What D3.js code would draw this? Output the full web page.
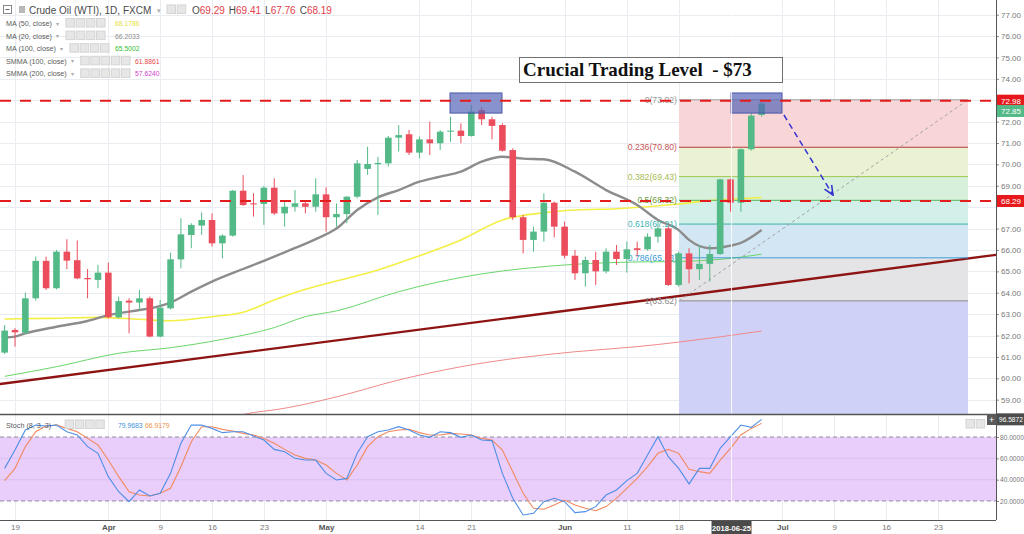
<!DOCTYPE html>
<html>
<head>
<meta charset="utf-8">
<script src="https://cdn.jsdelivr.net/npm/d3@7"></script>
<style>
  html, body { margin: 0; padding: 0; background: #fff; }
  svg { display: block; font-family: "Liberation Sans", Arial, sans-serif; }
</style>
</head>
<body>
<div id="chart"></div>
<script>
// daily candles, index 0 = 2018-03-16 : [open, high, low, close]
const candles = [
  [61.20, 62.49, 61.14, 62.23], [62.26, 62.34, 61.48, 62.15], [62.13, 64.00, 62.07, 63.74],
  [63.74, 65.69, 63.63, 65.49], [65.49, 65.69, 64.13, 64.21], [64.21, 66.00, 64.16, 65.92],
  [65.92, 66.50, 65.10, 65.50], [65.52, 66.44, 64.63, 64.67], [64.69, 65.11, 63.74, 64.63],
  [64.60, 65.30, 64.21, 64.94], [64.94, 65.41, 62.80, 62.85], [62.85, 63.82, 62.80, 63.61],
  [63.63, 63.74, 62.10, 63.54], [63.54, 64.13, 63.19, 63.74], [63.74, 63.82, 61.92, 61.95],
  [61.95, 63.66, 61.92, 63.30], [63.27, 65.87, 63.22, 65.56], [65.56, 67.48, 65.14, 66.73],
  [66.70, 67.25, 66.08, 67.17], [67.14, 67.75, 66.70, 67.40], [67.40, 67.71, 66.16, 66.31],
  [66.31, 66.73, 65.61, 66.67], [66.67, 68.80, 66.62, 68.77], [68.77, 69.50, 68.06, 68.10],
  [68.18, 68.65, 67.56, 68.13], [68.15, 68.99, 67.17, 68.91], [68.91, 69.35, 67.64, 67.71],
  [67.71, 68.26, 67.09, 68.02], [68.02, 68.80, 67.79, 68.18], [68.18, 68.31, 67.71, 68.02],
  [68.02, 69.35, 67.79, 68.60], [68.60, 68.93, 66.86, 67.53], [67.53, 68.18, 67.09, 67.68],
  [67.68, 68.52, 67.25, 68.49], [68.49, 70.21, 68.41, 70.05], [69.79, 70.83, 69.51, 70.02],
  [70.01, 70.36, 67.64, 70.07], [70.05, 71.33, 69.90, 71.25], [71.25, 71.84, 70.60, 71.37],
  [71.41, 71.61, 70.44, 70.55], [70.55, 71.30, 70.29, 71.17], [71.17, 72.00, 70.44, 70.99],
  [70.99, 71.61, 70.67, 71.53], [71.53, 72.23, 71.06, 71.58], [71.58, 71.92, 70.99, 71.33],
  [71.33, 72.78, 71.30, 72.47], [72.54, 72.67, 71.84, 72.11], [72.11, 72.23, 71.17, 71.80],
  [71.84, 71.92, 70.60, 70.64], [70.67, 70.75, 67.40, 67.53], [67.53, 67.64, 65.84, 66.47],
  [66.47, 67.09, 65.92, 66.86], [66.86, 68.65, 66.39, 68.21], [68.21, 68.26, 66.59, 67.09],
  [67.09, 67.32, 65.61, 65.73], [65.73, 66.00, 64.60, 64.91], [64.91, 65.69, 64.29, 65.53],
  [65.53, 65.92, 64.36, 65.00], [65.00, 66.08, 64.91, 65.92], [65.92, 66.23, 65.30, 65.58],
  [65.58, 66.39, 64.94, 66.03], [66.08, 66.39, 65.69, 66.00], [66.03, 66.78, 65.97, 66.62],
  [66.62, 67.32, 66.34, 67.01], [67.01, 67.09, 64.32, 64.36], [64.36, 65.92, 64.28, 65.84],
  [65.84, 66.08, 64.44, 65.10], [65.10, 66.23, 64.60, 65.35], [65.35, 66.23, 64.52, 65.81],
  [65.81, 69.33, 65.77, 69.30], [69.30, 69.33, 67.79, 68.21], [68.21, 70.75, 67.79, 70.71],
  [70.71, 72.39, 70.64, 72.28], [72.31, 72.93, 72.23, 72.85]
];

// moving averages, read as [bar index, value]
const ma20 = [[0,61.91],[1,61.95],[2,62.10],[5,62.41],[8,62.68],[10,62.95],[13,63.19],[14,63.27],
  [16,63.54],[18,64.05],[20,64.52],[23,65.11],[25,65.49],[27,65.89],[30,66.51],[32,67.00],[34,67.87],
  [36,68.46],[38,68.80],[40,69.19],[42,69.43],[44,69.66],[46,70.13],[48,70.36],[50,70.27],[52,70.24],
  [55,69.66],[58,68.80],[61,68.10],[63,67.40],[65,66.93],[66,66.47],[68,66.08],[70,66.20],[71,66.33],[73,66.93]];
const ma50 = [[0,62.77],[4,62.80],[9,62.85],[13,62.76],[16,62.69],[20,62.88],[23,63.09],[26,63.66],
  [29,64.16],[32,64.55],[36,65.06],[40,65.73],[44,66.47],[48,67.40],[52,67.74],[55,67.87],[59,67.93],
  [65,68.15],[67,68.26],[73,68.45]];
const ma100 = [[0,60.09],[5,60.54],[11,61.17],[16,61.43],[21,61.82],[26,62.37],[29,62.88],[32,63.15],
  [38,64.05],[42,64.52],[46,64.88],[50,65.13],[55,65.33],[61,65.44],[65,65.46],[69,65.56],[73,65.80]];
const smma100 = [[22,58.20],[24,58.40],[26,58.52],[32,59.13],[38,59.92],[44,60.54],[50,60.98],
  [55,61.24],[61,61.48],[65,61.69],[73,62.21]];

// stochastic %K and %D per bar
const stochK = [50.6,67.8,86.6,91.2,90.3,91.2,85,81.9,71,64.7,42.8,28.7,19.4,30.3,24.7,27.2,45.9,74.1,
  91.2,91.2,88.1,84.1,85,85,80.9,77.2,68.4,66.2,60,58.4,58.4,45.9,39.7,41.2,64.7,80.3,85,86.6,89.7,86.6,
  81.9,79.7,85,84.1,79.7,81.9,77.2,76.6,45.9,22.5,6.9,8.4,19.4,22.5,19.4,9.1,10,14.7,25.6,30.3,39.1,
  45.9,63.1,80.3,61.6,50.6,36,50.6,50.6,69.4,80.3,91.2,89.1,96.6];
const stochD = [39.1,50.6,71,85,90.3,91.2,88.1,85,78.7,72.5,58.4,42.8,28.7,25.6,24.7,27.2,31.9,52.2,
  75.6,89.7,89.7,87.2,85.6,83.4,81.9,78.7,74.1,68.4,63.1,60,58.4,53.7,45.9,39.7,53.7,71,80.3,85,86.6,
  87.2,84.1,81.9,81.9,83.4,82.8,81.9,78.7,77.2,67.8,47.5,27.2,13.1,12.2,16.2,20.9,16.2,13.1,10.9,14.7,
  22.5,31.9,41.2,52.2,64.7,68.4,64.7,49.7,47.5,45.9,58.4,69.4,81.9,88.1,92.8];

// time axis
const dateTicks = [1, 10, 15, 20, 25, 31, 40, 45, 54, 60, 65, 75, 80, 85, 90];
const dateLabels = ['19', 'Apr', '9', '16', '23', 'May', '14', '21', 'Jun', '11', '18', 'Jul', '9', '16', '23'];
const priceTicks = d3.range(59, 78);
const stochTicks = [20, 40, 60, 80];

// drawings
const levels = [72.98, 68.29];
const fibLevels = [0, 0.236, 0.382, 0.5, 0.618, 0.786, 1];
const fibHigh = 73.02, fibLow = 63.62;
const fibSpan = [65.03, 92.9];
const trendLine = [[-0.45, 59.73], [95.6, 65.77]];
const boxes = [[42.95, 47.96, 73.34, 72.40], [70.05, 74.96, 73.34, 72.40]];
const arrow = [[75.15, 72.31], [79.88, 68.57]];
const cursorBar = 70;

const legendRows = [
  { name: 'MA (50, close)', value: '68.1786', n: 4 },
  { name: 'MA (20, close)', value: '66.2033', n: 4 },
  { name: 'MA (100, close)', value: '65.5002', n: 4 },
  { name: 'SMMA (100, close)', value: '61.8861', n: 5 },
  { name: 'SMMA (200, close)', value: '57.6240', n: 5 }
];
const ohlc = [['O', '69.29'], ['H', '69.41'], ['L', '67.76'], ['C', '68.19']];

// ---- styles
const W = 1024, H = 534;
const PLOT_R = 996, MAIN_B = 414, STOCH_B = 520;
const UP = '#53b987', DOWN = '#eb4d5c';
const GRID = '#e9ecf1';
const fibFill = ['#f8d6d8', '#ebf2d3', '#d6f0dc', '#d3efe9', '#d3e6f3', '#e4e4e6'];
const fibBelow = '#cfd2f6';
const fibLine = ['#9a9a9a', '#b23a3a', '#9fc64d', '#5cb85c', '#3bb3a8', '#3d9ad6', '#8a8a8a'];
const fibText = ['#9a9a9a', '#c45656', '#a6bb52', '#6a9a3a', '#3fb5b5', '#3a9bd6', '#8a8a8a'];
const legendColors = ['#e6e23a', '#8a8a8a', '#33c033', '#e04848', '#d23ed2'];

const x = d3.scaleLinear().domain([0, 90]).range([4.63, 937.93]);
const y = d3.scaleLinear().domain([58.33, 77.687]).range([MAIN_B, 0]);
const ys = d3.scaleLinear().domain([0, 100]).range([522.3, 415.7]);

const svg = d3.select('#chart').append('svg')
  .attr('width', W)
  .attr('height', H);

const defs = svg.append('defs');
defs.append('clipPath').attr('id', 'clip-main')
  .append('rect').attr('x', 0).attr('y', 0).attr('width', PLOT_R).attr('height', MAIN_B);
defs.append('clipPath').attr('id', 'clip-stoch')
  .append('rect').attr('x', 0).attr('y', MAIN_B + 1).attr('width', PLOT_R).attr('height', STOCH_B - MAIN_B - 1);
defs.append('marker')
  .attr('id', 'arrowhead')
  .attr('viewBox', '0 0 10 10')
  .attr('refX', 9).attr('refY', 5)
  .attr('markerWidth', 7).attr('markerHeight', 7)
  .attr('orient', 'auto')
  .append('path')
  .attr('d', 'M0,1 L9,5 L0,9')
  .attr('fill', 'none')
  .attr('stroke', '#3434d0')
  .attr('stroke-width', 1.5);

svg.append('rect').attr('width', W).attr('height', H).attr('fill', '#fff');

// ---- grid
const grid = svg.append('g');
grid.selectAll('line.h').data(priceTicks).enter().append('line')
  .attr('x1', 0).attr('x2', PLOT_R)
  .attr('y1', d => Math.round(y(d)) + 0.5).attr('y2', d => Math.round(y(d)) + 0.5)
  .attr('stroke', GRID);
grid.selectAll('line.v').data(dateTicks).enter().append('line')
  .attr('x1', d => Math.round(x(d)) + 0.5).attr('x2', d => Math.round(x(d)) + 0.5)
  .attr('y1', 0).attr('y2', STOCH_B)
  .attr('stroke', GRID);

// ---- fibonacci retracement zones
const main = svg.append('g').attr('clip-path', 'url(#clip-main)');
const fibPrice = l => fibHigh - l * (fibHigh - fibLow);
const fx0 = x(fibSpan[0]), fx1 = x(fibSpan[1]);

main.selectAll('rect.fib').data(fibLevels.slice(0, -1)).enter().append('rect')
  .attr('x', fx0).attr('width', fx1 - fx0)
  .attr('y', d => y(fibPrice(d)))
  .attr('height', (d, i) => y(fibPrice(fibLevels[i + 1])) - y(fibPrice(d)))
  .attr('fill', (d, i) => fibFill[i]);
main.append('rect')
  .attr('x', fx0).attr('width', fx1 - fx0)
  .attr('y', y(fibLow)).attr('height', MAIN_B - y(fibLow))
  .attr('fill', fibBelow);

// ---- stochastic band
const stoch = svg.append('g').attr('clip-path', 'url(#clip-stoch)');
stoch.append('rect')
  .attr('x', 0).attr('width', PLOT_R)
  .attr('y', ys(80)).attr('height', ys(20) - ys(80))
  .attr('fill', '#e9cdfb');
stoch.selectAll('line.sg').data([40, 60]).enter().append('line')
  .attr('x1', 0).attr('x2', PLOT_R)
  .attr('y1', d => ys(d)).attr('y2', d => ys(d))
  .attr('stroke', '#dcc0f2');
stoch.selectAll('line.sb').data([20, 80]).enter().append('line')
  .attr('x1', 0).attr('x2', PLOT_R)
  .attr('y1', d => ys(d)).attr('y2', d => ys(d))
  .attr('stroke', '#8d8a9c')
  .attr('stroke-dasharray', '4,3');

// cursor line
svg.append('line')
  .attr('x1', x(cursorBar) + 1).attr('x2', x(cursorBar) + 1)
  .attr('y1', 0).attr('y2', STOCH_B)
  .attr('stroke', '#fff').attr('stroke-opacity', 0.85);

// ---- moving averages & trend line
const maLine = d3.line()
  .x(d => x(d[0]))
  .y(d => y(d[1]))
  .curve(d3.curveMonotoneX);

main.append('path').datum(smma100).attr('d', maLine)
  .attr('fill', 'none').attr('stroke', '#f08a8a').attr('stroke-width', 1);
main.append('path').datum(ma100).attr('d', maLine)
  .attr('fill', 'none').attr('stroke', '#6ad66a').attr('stroke-width', 1);
main.append('path').datum(ma50).attr('d', maLine)
  .attr('fill', 'none').attr('stroke', '#f3ef45').attr('stroke-width', 1.6);
main.append('path').datum(ma20).attr('d', maLine)
  .attr('fill', 'none').attr('stroke', '#8c8c8c').attr('stroke-width', 2.4);

main.append('path').datum(trendLine).attr('d', d3.line().x(d => x(d[0])).y(d => y(d[1])))
  .attr('fill', 'none').attr('stroke', '#8e1414').attr('stroke-width', 2.4);

// ---- fib lines + labels
main.selectAll('line.fib').data(fibLevels).enter().append('line')
  .attr('x1', fx0).attr('x2', fx1)
  .attr('y1', d => y(fibPrice(d))).attr('y2', d => y(fibPrice(d)))
  .attr('stroke', (d, i) => fibLine[i]);
main.append('line')
  .attr('x1', fx0).attr('y1', y(fibLow))
  .attr('x2', fx1).attr('y2', y(fibHigh))
  .attr('stroke', '#a0a0a0').attr('stroke-dasharray', '3,3');
main.selectAll('text.fib').data(fibLevels).enter().append('text')
  .attr('x', fx0 - 2)
  .attr('y', d => y(fibPrice(d)) + 3)
  .attr('text-anchor', 'end')
  .attr('font-size', 8.7)
  .attr('fill', (d, i) => fibText[i])
  .text(d => `${d}(${fibPrice(d).toFixed(2)})`);

// ---- candles
const cg = main.append('g');
cg.selectAll('line').data(candles).enter().append('line')
  .attr('x1', (d, i) => x(i)).attr('x2', (d, i) => x(i))
  .attr('y1', d => y(d[1])).attr('y2', d => y(d[2]))
  .attr('stroke', d => d[3] >= d[0] ? UP : DOWN);
cg.selectAll('rect').data(candles).enter().append('rect')
  .attr('x', (d, i) => x(i) - 3.3)
  .attr('width', 6.6)
  .attr('y', d => y(Math.max(d[0], d[3])))
  .attr('height', d => Math.max(1, Math.abs(y(d[0]) - y(d[3]))))
  .attr('fill', d => d[3] >= d[0] ? UP : DOWN);

// ---- drawings
main.selectAll('rect.box').data(boxes).enter().append('rect')
  .attr('x', d => x(d[0])).attr('width', d => x(d[1]) - x(d[0]))
  .attr('y', d => y(d[2])).attr('height', d => y(d[3]) - y(d[2]))
  .attr('fill', '#5565b8').attr('fill-opacity', 0.7)
  .attr('stroke', '#4a56a8');

main.selectAll('line.lvl').data(levels).enter().append('line')
  .attr('x1', 0).attr('x2', 992)
  .attr('y1', d => y(d)).attr('y2', d => y(d))
  .attr('stroke', '#e31c1c').attr('stroke-width', 2)
  .attr('stroke-dasharray', '11,9');

main.append('line')
  .attr('x1', x(arrow[0][0])).attr('y1', y(arrow[0][1]))
  .attr('x2', x(arrow[1][0])).attr('y2', y(arrow[1][1]))
  .attr('stroke', '#3434d0').attr('stroke-width', 1.5)
  .attr('stroke-dasharray', '6,4')
  .attr('marker-end', 'url(#arrowhead)');

// ---- stochastic lines
const sLine = d3.line().x((d, i) => x(i)).y(d => ys(d));
stoch.append('path').datum(stochD).attr('d', sLine)
  .attr('fill', 'none').attr('stroke', '#f28a5e').attr('stroke-width', 1.1);
stoch.append('path').datum(stochK).attr('d', sLine)
  .attr('fill', 'none').attr('stroke', '#4f8fe6').attr('stroke-width', 1.1);

// ---- title box
svg.append('rect')
  .attr('x', 519.5).attr('y', 57.5).attr('width', 263).attr('height', 25)
  .attr('fill', '#fff').attr('stroke', '#707070');
svg.append('text')
  .attr('x', 523).attr('y', 76)
  .attr('font-family', '"Liberation Serif", "Times New Roman", serif')
  .attr('font-weight', 'bold')
  .attr('font-size', 19)
  .attr('fill', '#111')
  .attr('xml:space', 'preserve')
  .text('Crucial Trading Level  - $73');

// ---- axes
const axisColor = '#555';
const hidden = [68, 73]; // sit under the level tags
const yAxis = svg.append('g')
  .attr('transform', `translate(${PLOT_R},0)`)
  .call(d3.axisRight(y).tickValues(priceTicks.filter(d => !hidden.includes(d)))
    .tickSize(3).tickFormat(d3.format('.2f')));
const sAxis = svg.append('g')
  .attr('transform', `translate(${PLOT_R},0)`)
  .call(d3.axisRight(ys).tickValues(stochTicks).tickSize(3).tickFormat(d3.format('.4f')));
const xAxis = svg.append('g')
  .attr('transform', `translate(0,${STOCH_B})`)
  .call(d3.axisBottom(x).tickValues(dateTicks).tickSize(0).tickFormat((d, i) => dateLabels[i]));

for (let a of [yAxis, sAxis, xAxis]) {
  a.select('.domain').remove();
  a.selectAll('line').attr('stroke', '#888');
  a.selectAll('text').attr('fill', '#777').attr('font-size', 8)
    .attr('font-family', '"Liberation Sans", Arial, sans-serif');
}
yAxis.selectAll('text').attr('x', 5);
sAxis.selectAll('text').attr('x', 4).attr('font-size', 6.6);
xAxis.selectAll('text').attr('y', 4)
  .attr('font-weight', (d, i) => /[A-Z]/.test(dateLabels[i]) ? 'bold' : 'normal')
  .attr('fill', (d, i) => /[A-Z]/.test(dateLabels[i]) ? '#555' : '#777');

svg.append('line').attr('x1', PLOT_R + 0.5).attr('x2', PLOT_R + 0.5).attr('y1', 0).attr('y2', STOCH_B)
  .attr('stroke', axisColor);
svg.append('line').attr('x1', 0).attr('x2', PLOT_R).attr('y1', STOCH_B + 0.5).attr('y2', STOCH_B + 0.5)
  .attr('stroke', axisColor);
svg.append('line').attr('x1', 0).attr('x2', PLOT_R).attr('y1', MAIN_B + 0.5).attr('y2', MAIN_B + 0.5)
  .attr('stroke', '#555').attr('stroke-width', 1.4);

// price tags on the axis
function tag(yy, text, bg, fg, size) {
  const t = svg.append('g').attr('transform', `translate(${PLOT_R + 1},${yy})`);
  t.append('rect').attr('x', 0).attr('y', -6).attr('width', W - PLOT_R).attr('height', 12).attr('fill', bg);
  t.append('text').attr('x', size ? 2 : 4).attr('y', 3).attr('font-size', size || 8).attr('fill', fg).text(text);
}
tag(y(levels[0]), levels[0].toFixed(2), '#e8191c', '#fff');
tag(y(candles[candles.length - 1][3]) + 7.5, candles[candles.length - 1][3].toFixed(2), '#53b987', '#fff');
tag(y(levels[1]), levels[1].toFixed(2), '#e8191c', '#fff');
tag(ys(stochK[stochK.length - 1]), '96.5872', '#4d4d4d', '#fff', 6.6);
svg.append('rect').attr('x', 987).attr('y', 414).attr('width', 9).attr('height', 11).attr('fill', '#5a5a5a');
svg.append('text').attr('x', 989).attr('y', 422.5).attr('font-size', 9).attr('fill', '#fff').text('+');

// cursor date tag
const dt = svg.append('g').attr('transform', `translate(${x(cursorBar) + 1},${STOCH_B})`);
dt.append('rect').attr('x', -20).attr('y', 1).attr('width', 40).attr('height', 13).attr('fill', '#4a4a4a');
dt.append('text').attr('x', 0).attr('y', 10.5).attr('text-anchor', 'middle')
  .attr('font-size', 7.6).attr('font-weight', 'bold').attr('fill', '#fff').text('2018-06-25');

// ---- legend
function iconBoxes(g, x0, yy, n) {
  for (let k = 0; k < n; k++) {
    g.append('rect')
      .attr('x', x0 + k * 10.2).attr('y', yy - 4.5)
      .attr('width', 8.5).attr('height', 8.5)
      .attr('fill', '#e6e6e6').attr('stroke', '#d4d4d4');
  }
}

const lg = svg.append('g');
lg.append('rect').attr('x', 3.5).attr('y', 5.5).attr('width', 8).attr('height', 8)
  .attr('fill', '#fff').attr('stroke', '#888');
lg.append('line').attr('x1', 5.5).attr('x2', 9.5).attr('y1', 9.5).attr('y2', 9.5).attr('stroke', '#666');
lg.append('rect').attr('x', 19).attr('y', 6).attr('width', 6).attr('height', 7).attr('fill', '#b9b9b9');
lg.append('text').attr('x', 29).attr('y', 14).attr('font-size', 10).attr('fill', '#4a4a4a')
  .text('Crude Oil (WTI), 1D, FXCM');
lg.append('text').attr('x', 157).attr('y', 13).attr('font-size', 7).attr('fill', '#aaa').text('▾');
iconBoxes(lg, 167, 9.5, 2);
const oh = lg.append('text').attr('x', 192).attr('y', 14).attr('font-size', 10);
ohlc.forEach(([k, v], i) => {
  oh.append('tspan').attr('dx', i ? 4 : 0).attr('fill', '#4a4a4a').text(k);
  oh.append('tspan').attr('fill', '#e0404a').text(v);
});

legendRows.forEach((r, i) => {
  const yy = 23 + i * 12.6;
  const t = lg.append('text').attr('x', 6).attr('y', yy + 3).attr('font-size', 7.2).attr('fill', '#5a5a5a').text(r.name);
  const w = t.node().getComputedTextLength();
  lg.append('text').attr('x', 6 + w + 4).attr('y', yy + 2.5).attr('font-size', 6).attr('fill', '#aaa').text('▾');
  iconBoxes(lg, 6 + w + 14, yy, r.n);
  lg.append('text').attr('x', r.n === 5 ? 135 : 115).attr('y', yy + 3).attr('font-size', 6.8)
    .attr('fill', legendColors[i]).text(r.value);
});

const st = lg.append('text').attr('x', 6).attr('y', 427.5).attr('font-size', 7.2).attr('fill', '#5a5a5a').text('Stoch (8, 3, 3)');
const sw = st.node().getComputedTextLength();
lg.append('text').attr('x', 6 + sw + 4).attr('y', 427).attr('font-size', 6).attr('fill', '#aaa').text('▾');
iconBoxes(lg, 6 + sw + 14, 424.5, 4);
lg.append('text').attr('x', 118).attr('y', 427.5).attr('font-size', 6.8).attr('fill', '#3d8fe0').text('79.9683');
lg.append('text').attr('x', 145).attr('y', 427.5).attr('font-size', 6.8).attr('fill', '#f0904a').text('66.9179');
iconBoxes(lg, 966, 424, 2);
</script>
</body>
</html>
